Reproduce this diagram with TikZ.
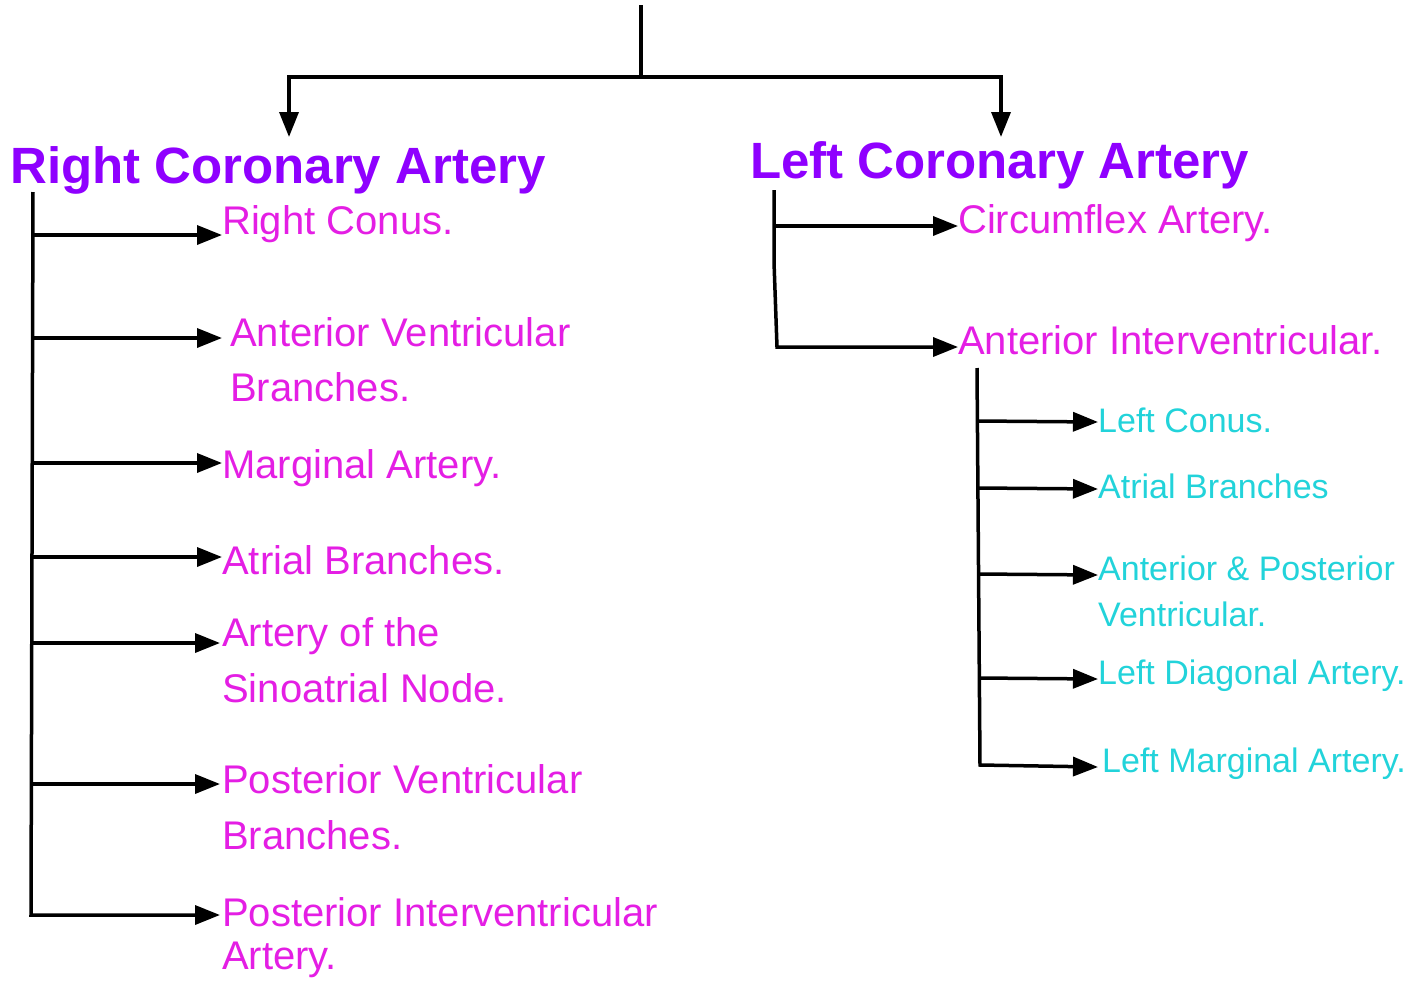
\documentclass[tikz,border=0pt]{standalone}
\usepackage{fontspec}
\setmainfont{Liberation Sans}
\usetikzlibrary{arrows.meta}
\definecolor{headc}{HTML}{8F00FF}
\definecolor{magc}{HTML}{E41EE4}
\definecolor{cyanc}{HTML}{22D3DA}
\begin{document}
\begin{tikzpicture}[x=1pt,y=-1pt,
  conn/.style={line width=3.5pt, draw=black},
  arr/.style={conn, -{Triangle[length=25pt,width=19pt]}},
  head/.style={anchor=base west, inner sep=0pt, text=headc, font=\fontsize{51}{60}\selectfont\bfseries},
  mag/.style={anchor=base west, inner sep=0pt, text=magc, font=\fontsize{40}{48}\selectfont},
  cyn/.style={anchor=base west, inner sep=0pt, text=cyanc, font=\fontsize{34}{40}\selectfont}]
\useasboundingbox (0,0) rectangle (1427,980);

% headings
\node[head] (rca) at (10,183) {Right Coronary Artery};
\node[head] (lca) at (750,178) {Left Coronary Artery};

% right coronary branches
\node[mag] (rc)  at (222,234) {Right Conus.};
\node[mag] (av1) at (230,346) {Anterior Ventricular};
\node[mag] (av2) at (230,401) {Branches.};
\node[mag] (ma)  at (222,478) {Marginal Artery.};
\node[mag] (ab)  at (222,574) {Atrial Branches.};
\node[mag] (sa1) at (222,646) {Artery of the};
\node[mag] (sa2) at (222,702) {Sinoatrial Node.};
\node[mag] (pv1) at (222,793) {Posterior Ventricular};
\node[mag] (pv2) at (222,849) {Branches.};
\node[mag] (pi1) at (222,926) {Posterior Interventricular};
\node[mag] (pi2) at (222,969) {Artery.};

% left coronary branches
\node[mag] (cx)  at (958,233) {Circumflex Artery.};
\node[mag] (aiv) at (958,354) {Anterior Interventricular.};

% anterior interventricular branches
\node[cyn] (lc)  at (1098,432) {Left Conus.};
\node[cyn] (lab) at (1098,498) {Atrial Branches};
\node[cyn] (ap1) at (1098,580) {Anterior \& Posterior};
\node[cyn] (ap2) at (1098,626) {Ventricular.};
\node[cyn] (ld)  at (1098,684) {Left Diagonal Artery.};
\node[cyn] (lm)  at (1102,772) {Left Marginal Artery.};

% top connectors
\coordinate (top) at (641,5);
\coordinate (mid) at (641,77);
\coordinate (rtip) at (289,137);
\coordinate (ltip) at (1001,137);
\draw[conn] (top) -- (mid);
\draw[arr] (mid) -| (rtip);
\draw[arr] (mid) -| (ltip);

% right coronary trunk
\coordinate (T0) at (33,192);
\coordinate (T1) at (33,235);  \coordinate (E1) at (222,235);
\coordinate (T2) at (33,338);  \coordinate (E2) at (222,338);
\coordinate (T3) at (33,463);  \coordinate (E3) at (222,463);
\coordinate (T4) at (33,557);  \coordinate (E4) at (222,557);
\coordinate (T5) at (32,643);  \coordinate (E5) at (220,643);
\coordinate (T6) at (32,784);  \coordinate (E6) at (220,784);
\coordinate (T7) at (31,915);  \coordinate (E7) at (220,915);
\draw[arr] (T0) -- (T7) -- (E7);
\foreach \i in {1,...,6} \draw[arr] (T\i) -- (E\i);

% left coronary trunk
\coordinate (L0) at (774,190);
\coordinate (Lk) at (774,262);
\coordinate (L1) at (774,226);  \coordinate (F1) at (958,226);
\coordinate (L2) at (777,347);  \coordinate (F2) at (958,347);
\draw[arr] (L0) -- (Lk) -- (L2) -- (F2);
\draw[arr] (L1) -- (F1);

% anterior interventricular trunk
\coordinate (S0) at (977,368);
\coordinate (S1) at (977,421);  \coordinate (G1) at (1098,422);
\coordinate (S2) at (978,488);  \coordinate (G2) at (1098,489);
\coordinate (S3) at (978,574);  \coordinate (G3) at (1098,575);
\coordinate (S4) at (979,678);  \coordinate (G4) at (1098,679);
\coordinate (S5) at (980,765);  \coordinate (G5) at (1098,767);
\draw[arr] (S0) -- (S5) -- (G5);
\foreach \i in {1,...,4} \draw[arr] (S\i) -- (G\i);
\end{tikzpicture}
\end{document}
